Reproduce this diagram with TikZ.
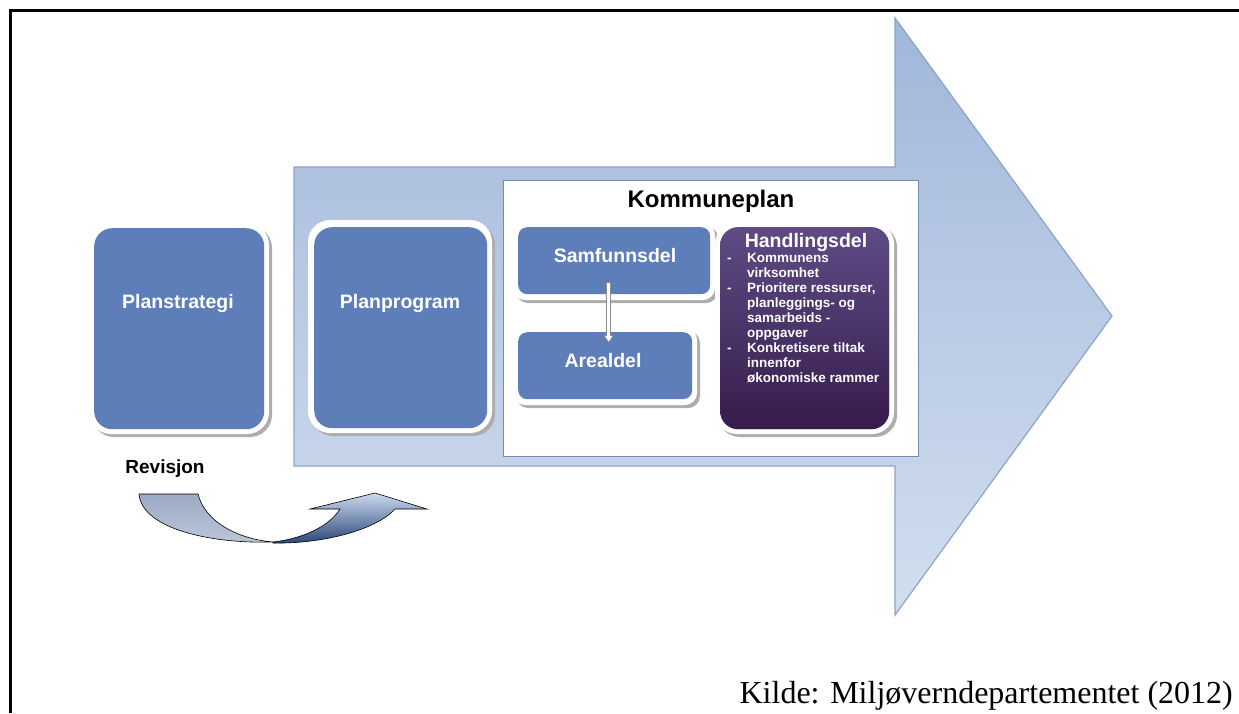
\documentclass[tikz,border=0pt]{standalone}
\usepackage{fontspec}
\setmainfont{Liberation Serif}
\newfontfamily\arialf{Liberation Sans}
\usetikzlibrary{arrows.meta}
\definecolor{boxblue}{RGB}{94,126,186}
\definecolor{arrowdark}{RGB}{160,183,218}
\definecolor{arrowmid}{RGB}{186,203,229}
\definecolor{arrowlight}{RGB}{210,222,239}
\definecolor{arrowedge}{RGB}{140,163,200}
\definecolor{kpedge}{RGB}{120,138,175}
\definecolor{purpletop}{RGB}{94,75,132}
\definecolor{purplebot}{RGB}{54,28,76}
\definecolor{revlight}{RGB}{205,218,238}
\definecolor{revdark}{RGB}{40,70,120}
\definecolor{revgreytop}{RGB}{155,170,196}
\definecolor{revgreybot}{RGB}{188,198,216}
\tikzset{
  shadowbox/.style={fill=black!32},
  whiteframe/.style={fill=white},
  bluebox/.style={fill=boxblue, inner sep=0pt, anchor=north west},
  title/.style={font=\arialf\bfseries\fontsize{19.5}{22}\selectfont, text=white, anchor=base, inner sep=0pt},
  listtext/.style={font=\arialf\bfseries\fontsize{13.5}{15}\selectfont, text=white, align=left, anchor=north west, inner sep=0pt},
  revedge/.style={draw=black, line width=0.6pt}
}
\begin{document}
\begin{tikzpicture}[x=1pt,y=-1pt]
\useasboundingbox (0,0) rectangle (1239,713);
\fill[white] (0,0) rectangle (1239,713);
% frame
\draw[line width=3pt] (10.5,713) -- (10.5,10.5) -- (1239,10.5);
% big arrow
\draw[draw=arrowedge, line width=1.2pt, top color=arrowdark, bottom color=arrowlight, middle color=arrowmid]
  (294,167) -- (895,167) -- (895,18) -- (1112,316) -- (895,615) -- (895,466) -- (294,466) -- cycle;
% Kommuneplan box
\node[draw=kpedge, line width=0.8pt, fill=white, minimum width=415pt, minimum height=276pt, inner sep=0pt, anchor=north west] (kp) at (503,180) {};
\node[font=\arialf\bfseries\fontsize{24}{28}\selectfont, anchor=base, inner sep=0pt] (kpt) at (711,207) {Kommuneplan};
% Planstrategi
\fill[shadowbox, rounded corners=22pt] (92,226) rectangle (272,437);
\fill[whiteframe, rounded corners=22pt] (89,223) rectangle (269,434);
\node[bluebox, rounded corners=18pt, minimum width=170pt, minimum height=201pt] (ps) at (94,228) {};
\node[title] (pst) at (178,308) {Planstrategi};
% Planprogram
\fill[shadowbox, rounded corners=22pt] (311,223) rectangle (495,436);
\fill[whiteframe, rounded corners=22pt] (308,220) rectangle (492,433);
\node[bluebox, rounded corners=18pt, minimum width=173pt, minimum height=201pt] (pp) at (314,227) {};
\node[title] (ppt) at (400,308) {Planprogram};
% Samfunnsdel
\fill[shadowbox, rounded corners=12pt] (516,226) rectangle (718,303);
\fill[whiteframe, rounded corners=12pt] (513,223) rectangle (715,300);
\node[bluebox, rounded corners=9pt, minimum width=192pt, minimum height=67pt] (sd) at (518,227) {};
\node[title] (sdt) at (615,262) {Samfunnsdel};
% Arealdel
\fill[shadowbox, rounded corners=12pt] (516,331) rectangle (700,408);
\fill[whiteframe, rounded corners=12pt] (513,328) rectangle (697,405);
\node[bluebox, rounded corners=9pt, minimum width=174pt, minimum height=67pt] (ad) at (518,332) {};
\node[title] (adt) at (603,367) {Arealdel};
% connector Samfunnsdel -> Arealdel
\draw[draw=black!45, line width=5pt, -{Triangle[width=10pt,length=8pt]}] ([shift={(-5.5,-12)}]sd.south) -- ([shift={(3.5,11)}]ad.north);
\draw[draw=white, line width=3pt, shorten >=1.5pt, -{Triangle[width=7pt,length=5.5pt]}] ([shift={(-5.5,-11)}]sd.south) -- ([shift={(3.5,11)}]ad.north);
% Handlingsdel
\fill[shadowbox, rounded corners=22pt] (718,225) rectangle (897,437);
\fill[whiteframe, rounded corners=22pt] (715,222) rectangle (894,434);
\node[bluebox, rounded corners=18pt, top color=purpletop, bottom color=purplebot, minimum width=169pt, minimum height=202pt] (hd) at (720,227) {};
\node[title, font=\arialf\bfseries\fontsize{19.5}{22}\selectfont] (hdt) at (806,247) {Handlingsdel};
\node[listtext] (hdl) at (727,253.2) {%
\makebox[20pt][l]{-}Kommunens\\
\hspace*{20pt}virksomhet\\
\makebox[20pt][l]{-}Prioritere ressurser,\\
\hspace*{20pt}planleggings- og\\
\hspace*{20pt}samarbeids -\\
\hspace*{20pt}oppgaver\\
\makebox[20pt][l]{-}Konkretisere tiltak\\
\hspace*{20pt}innenfor\\
\hspace*{20pt}økonomiske rammer};
% Revisjon
\node[font=\arialf\bfseries\fontsize{19}{22}\selectfont, anchor=base, inner sep=0pt] (rev) at (165,473) {Revisjon};
\draw[revedge, top color=revgreytop, bottom color=revgreybot]
  (139,494) -- (198,494) .. controls (205,522) and (238,539) .. (273,542)
  .. controls (215,544) and (142,530) .. (139,494) -- cycle;
\draw[revedge, top color=revlight, bottom color=revdark]
  (273,543) .. controls (320,544) and (375,531) .. (395,509) -- (427,509) -- (375,493) -- (310,509) -- (340,509)
  .. controls (328,528) and (300,539) .. (273,542) -- cycle;
% source
\node[font=\fontsize{32}{36}\selectfont, anchor=base east, inner sep=0pt] (src) at (1233,703) {Kilde: Miljøverndepartementet (2012)};
\end{tikzpicture}
\end{document}
